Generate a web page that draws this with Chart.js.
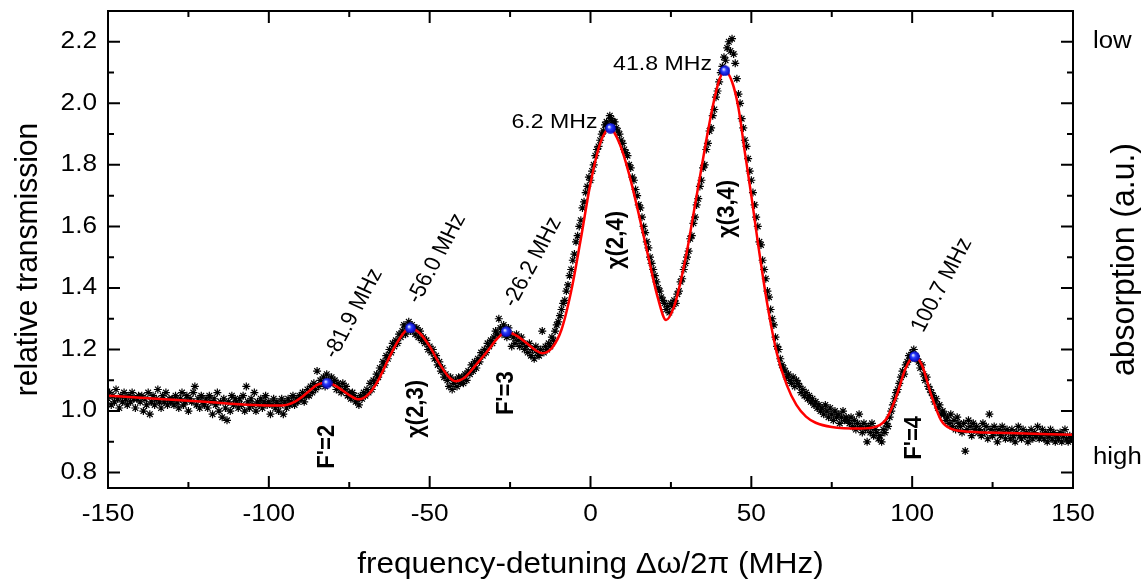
<!DOCTYPE html>
<html>
<head>
<meta charset="utf-8">
<script src="https://cdn.jsdelivr.net/npm/chart.js@4.4.1/dist/chart.umd.min.js"></script>
<style>
  html, body { margin: 0; padding: 0; background: #fff; }
  #wrap { width: 1147px; height: 583px; }
</style>
</head>
<body>
<div id="wrap"><canvas id="spectrum"></canvas></div>
<script>
// measured transmission, one value every 0.5 MHz from -150 MHz
const FREQ_START = -150;
const FREQ_STEP = 0.5;
const measured = [
  1.04,1.06,1.02,1.05,1.03,1.07,1.04,1.01,1.05,1.03,1.06,1.04,1.02,1.05,1.03,1.06,1.04,1.01,1.04,1.05, // -150
  1.03,1.05,1.00,1.04,1.02,1.06,0.99,1.03,1.05,1.02,1.04,1.07,1.03,1.01,1.05,1.03,1.06,1.02,1.04,1.03, // -140
  1.04,1.02,1.05,1.03,1.01,1.04,1.06,1.02,1.03,1.05,1.00,1.04,1.03,1.06,1.08,1.02,1.04,1.01,1.05,1.03, // -130
  1.02,1.04,1.01,1.05,1.03,0.99,1.04,1.02,1.06,1.00,1.03,0.98,1.04,1.01,0.97,1.03,1.00,1.05,1.02,1.04, // -120
  1.03,1.01,1.04,1.02,1.05,1.00,1.08,1.03,1.01,1.04,1.02,1.06,1.00,1.03,1.02,1.04,1.01,1.03,1.05,1.02, // -110
  1.03,0.99,1.02,1.04,1.01,1.03,1.00,1.02,1.04,0.99,1.03,1.01,1.04,1.02,1.03,1.05,1.02,1.04,1.03,1.05, // -100
  1.04,1.06,1.03,1.05,1.07,1.05,1.08,1.06,1.09,1.07,1.13,1.08,1.10,1.09,1.11,1.08,1.12,1.10,1.09,1.11, // -90
  1.09,1.10,1.07,1.09,1.08,1.06,1.09,1.07,1.08,1.05,1.06,1.04,1.06,1.05,1.03,1.04,1.02,1.05,1.04,1.06, // -80
  1.05,1.07,1.06,1.09,1.07,1.10,1.09,1.12,1.11,1.14,1.13,1.16,1.15,1.18,1.17,1.20,1.19,1.22,1.21,1.23, // -70
  1.22,1.25,1.24,1.26,1.28,1.25,1.27,1.29,1.26,1.28,1.27,1.25,1.27,1.24,1.26,1.23,1.24,1.22,1.23,1.20, // -60
  1.21,1.19,1.20,1.17,1.18,1.15,1.16,1.13,1.14,1.11,1.12,1.10,1.08,1.11,1.07,1.09,1.10,1.08,1.11,1.09, // -50
  1.11,1.09,1.12,1.10,1.13,1.12,1.15,1.13,1.16,1.14,1.17,1.16,1.19,1.18,1.20,1.19,1.22,1.21,1.23,1.22, // -40
  1.24,1.26,1.25,1.30,1.27,1.25,1.28,1.26,1.24,1.27,1.25,1.21,1.24,1.22,1.25,1.23,1.21,1.24,1.22,1.20, // -30
  1.21,1.19,1.22,1.18,1.20,1.17,1.21,1.19,1.18,1.20,1.26,1.19,1.21,1.20,1.22,1.21,1.24,1.23,1.26,1.28, // -20
  1.29,1.31,1.33,1.35,1.36,1.39,1.41,1.44,1.46,1.49,1.51,1.55,1.57,1.60,1.62,1.66,1.68,1.71,1.73,1.76, // -10
  1.75,1.78,1.80,1.83,1.85,1.86,1.88,1.90,1.91,1.93,1.94,1.93,1.96,1.95,1.94,1.94,1.92,1.91,1.90,1.88, // 0
  1.87,1.85,1.84,1.83,1.80,1.79,1.76,1.75,1.72,1.70,1.67,1.66,1.63,1.60,1.58,1.55,1.53,1.50,1.48,1.46, // 10
  1.44,1.42,1.40,1.39,1.37,1.36,1.35,1.33,1.34,1.32,1.35,1.34,1.36,1.35,1.38,1.39,1.42,1.43,1.46,1.48, // 20
  1.50,1.52,1.56,1.57,1.61,1.63,1.67,1.69,1.73,1.75,1.79,1.80,1.85,1.87,1.91,1.92,1.96,1.98,2.02,2.04, // 30
  2.07,2.10,2.12,2.15,2.14,2.18,2.20,2.17,2.21,2.16,2.13,2.08,2.03,2.00,1.95,1.92,1.88,1.86,1.82,1.78, // 40
  1.75,1.71,1.67,1.63,1.60,1.55,1.54,1.49,1.46,1.43,1.39,1.37,1.33,1.30,1.28,1.24,1.21,1.20,1.17,1.15, // 50
  1.14,1.13,1.11,1.12,1.10,1.09,1.11,1.08,1.10,1.09,1.08,1.06,1.07,1.05,1.06,1.04,1.05,1.03,1.04,1.02, // 60
  1.03,1.01,1.02,1.00,1.01,0.99,1.02,1.00,0.98,1.01,0.99,0.97,1.00,0.98,0.99,0.96,0.98,1.00,0.97,0.98, // 70
  0.97,0.96,0.98,0.95,0.97,0.94,0.96,0.99,0.95,0.93,0.96,0.94,0.90,0.95,0.93,0.96,0.92,0.94,0.93,0.91, // 80
  0.92,0.90,0.94,0.93,0.96,0.95,0.98,1.00,1.02,1.04,1.06,1.07,1.09,1.11,1.13,1.12,1.15,1.16,1.18,1.17, // 90
  1.19,1.20,1.18,1.17,1.16,1.14,1.15,1.12,1.10,1.11,1.08,1.07,1.06,1.05,1.03,1.04,1.01,1.02,0.99,1.00, // 100
  0.99,0.97,0.98,0.96,0.99,0.95,0.97,0.94,0.98,0.96,0.95,0.93,0.96,0.87,0.94,0.97,0.95,0.92,0.96,0.94, // 110
  0.95,0.93,0.94,0.92,0.96,0.93,0.95,0.91,0.99,0.94,0.92,0.95,0.93,0.90,0.94,0.92,0.95,0.93,0.91,0.94, // 120
  0.93,0.91,0.94,0.92,0.90,0.93,0.95,0.92,0.91,0.94,0.92,0.93,0.90,0.92,0.94,0.91,0.93,0.92,0.95,0.91, // 130
  0.92,0.94,0.91,0.93,0.90,0.92,0.94,0.91,0.93,0.90,0.92,0.91,0.93,0.90,0.92,0.94,0.91,0.90,0.92,0.91, // 140
  0.91
];

// fitted curve
const fitFreq = [-150,-135,-120,-105,-96,-92,-88,-85,-82,-79,-75,-72,-69,-66,-63,-60,-57,-56,-53,-50,
  -47,-44,-42,-39,-36,-32,-29,-26.2,-23,-20,-17,-15,-12,-9,-6,-3,0,3,6,9,
  12,15,18,21,23.5,26,28,30,32,34,36,38,40,41.8,44,46,48,50,52,55,
  58,61,64,67,70,75,84,89,92,95,98,100.6,103,106,109,112,118,130,150];
const fitValue = [1.050,1.040,1.030,1.020,1.018,1.030,1.060,1.085,1.093,1.080,1.052,1.038,1.055,1.100,1.165,1.225,1.266,1.270,1.252,1.210,
  1.155,1.110,1.097,1.110,1.145,1.195,1.235,1.258,1.245,1.222,1.197,1.188,1.205,1.265,1.390,1.560,1.740,1.870,1.918,1.870,
  1.770,1.640,1.500,1.365,1.296,1.340,1.420,1.520,1.640,1.760,1.880,1.990,2.075,2.106,2.070,1.985,1.840,1.700,1.550,1.345,
  1.185,1.085,1.020,0.982,0.962,0.948,0.943,0.950,0.975,1.045,1.140,1.177,1.150,1.050,0.970,0.943,0.933,0.929,0.923];

// fitted line centres
const peakFreq = [-81.9, -56.0, -26.2, 6.2, 41.8, 100.7];
const peakValue = [1.091, 1.270, 1.258, 1.919, 2.106, 1.177];
const peakText = ["-81.9 MHz", "-56.0 MHz", "-26.2 MHz", "6.2 MHz", "41.8 MHz", "100.7 MHz"];

// transition names written along the lines
const lineNames = ["F'=2", "\u03c7(2,3)", "F'=3", "\u03c7(2,4)", "\u03c7(3,4)", "F'=4"];
const lineFreq = [-81.9, -54.2, -26.2, 8.0, 42.4, 100.7];
const lineValue = [0.884, 1.007, 1.058, 1.556, 1.657, 0.913];

const xTicks = [-150, -100, -50, 0, 50, 100, 150];
const yTicks = [0.8, 1.0, 1.2, 1.4, 1.6, 1.8, 2.0, 2.2];

const FONT = '"Liberation Sans", Arial, sans-serif';

// little shaded blue ball for the line centres
const ball = document.createElement("canvas");
ball.width = 11; ball.height = 11;
(function () {
  const g = ball.getContext("2d");
  const grad = g.createRadialGradient(4, 4, 0.5, 5.5, 5.5, 5.5);
  grad.addColorStop(0, "#e0e8ff");
  grad.addColorStop(0.35, "#2a3cff");
  grad.addColorStop(1, "#0000b0");
  g.fillStyle = grad;
  g.beginPath();
  g.arc(5.5, 5.5, 5.3, 0, Math.PI * 2);
  g.fill();
})();

function say(ctx, text, px, py, o) {
  ctx.save();
  ctx.translate(px, py);
  ctx.scale(o.sx || 1, 1);
  if (o.angle) ctx.rotate(o.angle * Math.PI / 180);
  ctx.font = o.font;
  ctx.textAlign = o.align || "center";
  ctx.textBaseline = o.base || "middle";
  ctx.fillStyle = "#000";
  ctx.fillText(text, 0, 0);
  ctx.restore();
}

const frame = {
  id: "frame",
  afterDatasetsDraw(chart) {
    const { ctx, chartArea: a, scales: { x, y } } = chart;
    ctx.save();
    ctx.strokeStyle = "#000";
    ctx.lineWidth = 2;
    ctx.beginPath();
    // x ticks every 25, labelled every 50
    for (let v = -150; v <= 150; v += 25) {
      const px = x.getPixelForValue(v);
      const len = v % 50 === 0 ? 12 : 6;
      ctx.moveTo(px, a.bottom); ctx.lineTo(px, a.bottom - len);
      ctx.moveTo(px, a.top); ctx.lineTo(px, a.top + len);
    }
    // y ticks every 0.1, labelled every 0.2
    for (let i = 8; i <= 22; i++) {
      const py = y.getPixelForValue(i / 10);
      const len = i % 2 === 0 ? 12 : 6;
      ctx.moveTo(a.left, py); ctx.lineTo(a.left + len, py);
      ctx.moveTo(a.right, py); ctx.lineTo(a.right - len, py);
    }
    ctx.stroke();
    ctx.strokeRect(a.left, a.top, a.right - a.left, a.bottom - a.top);
    ctx.restore();

    const tickFont = "23px " + FONT;
    xTicks.forEach(v => say(ctx, String(v), x.getPixelForValue(v), a.bottom + 27, { font: tickFont, sx: 1.14 }));
    yTicks.forEach(v => say(ctx, v.toFixed(1), a.left - 11, y.getPixelForValue(v), { font: tickFont, sx: 1.14, align: "right" }));
    say(ctx, "low", a.right + 20, y.getPixelForValue(2.2), { font: tickFont, sx: 1.12, align: "left" });
    say(ctx, "high", a.right + 20, y.getPixelForValue(0.85), { font: tickFont, sx: 1.12, align: "left" });

    const titleFont = "30px " + FONT;
    say(ctx, "frequency-detuning \u0394\u03c9/2\u03c0 (MHz)", (a.left + a.right) / 2, 565, { font: titleFont, sx: 1.05 });
    say(ctx, "relative transmission", 28, (a.top + a.bottom) / 2 + 10, { font: titleFont, sx: 1.05, angle: -90 });
    say(ctx, "absorption (a.u.)", 1125, (a.top + a.bottom) / 2 + 10, { font: "32px " + FONT, sx: 1.05, angle: -90 });

    // peak positions
    const peakFont = "21px " + FONT;
    peakFreq.forEach((f, i) => {
      const px = x.getPixelForValue(f), py = y.getPixelForValue(peakValue[i]);
      if (i === 3 || i === 4) {
        say(ctx, peakText[i], px - 13, py - 6, { font: peakFont, sx: 1.1, align: "right" });
      } else {
        say(ctx, peakText[i], px + 3, py - 26, { font: peakFont, sx: 1.1, align: "left", angle: -64 });
      }
    });

    // transition names
    const nameFont = "bold 22px " + FONT;
    lineNames.forEach((t, i) => {
      say(ctx, t, x.getPixelForValue(lineFreq[i]), y.getPixelForValue(lineValue[i]), { font: nameFont, sx: 1.1, angle: -90 });
    });
  }
};

new Chart(document.getElementById("spectrum"), {
  type: "scatter",
  data: {
    datasets: [
      {
        label: "centres",
        data: peakFreq.map((f, i) => ({ x: f, y: peakValue[i] })),
        pointStyle: ball,
        pointRadius: 6
      },
      {
        label: "fit",
        data: fitFreq.map((f, i) => ({ x: f, y: fitValue[i] })),
        showLine: true,
        borderColor: "#ff0000",
        borderWidth: 2.5,
        pointRadius: 0,
        cubicInterpolationMode: "monotone"
      },
      {
        label: "measured",
        data: measured.map((v, i) => ({ x: FREQ_START + i * FREQ_STEP, y: v })),
        pointStyle: "star",
        pointRadius: 4,
        borderColor: "#000",
        backgroundColor: "#000",
        borderWidth: 1.2
      }
    ]
  },
  options: {
    responsive: true,
    maintainAspectRatio: false,
    animation: false,
    devicePixelRatio: 1,
    events: [],
    layout: { padding: { left: 108, right: 74, top: 11, bottom: 95 } },
    plugins: { legend: { display: false }, tooltip: { enabled: false } },
    scales: {
      x: { type: "linear", min: -150, max: 150, display: false },
      y: { type: "linear", min: 0.75, max: 2.30, display: false }
    }
  },
  plugins: [frame]
});
</script>
</body>
</html>
